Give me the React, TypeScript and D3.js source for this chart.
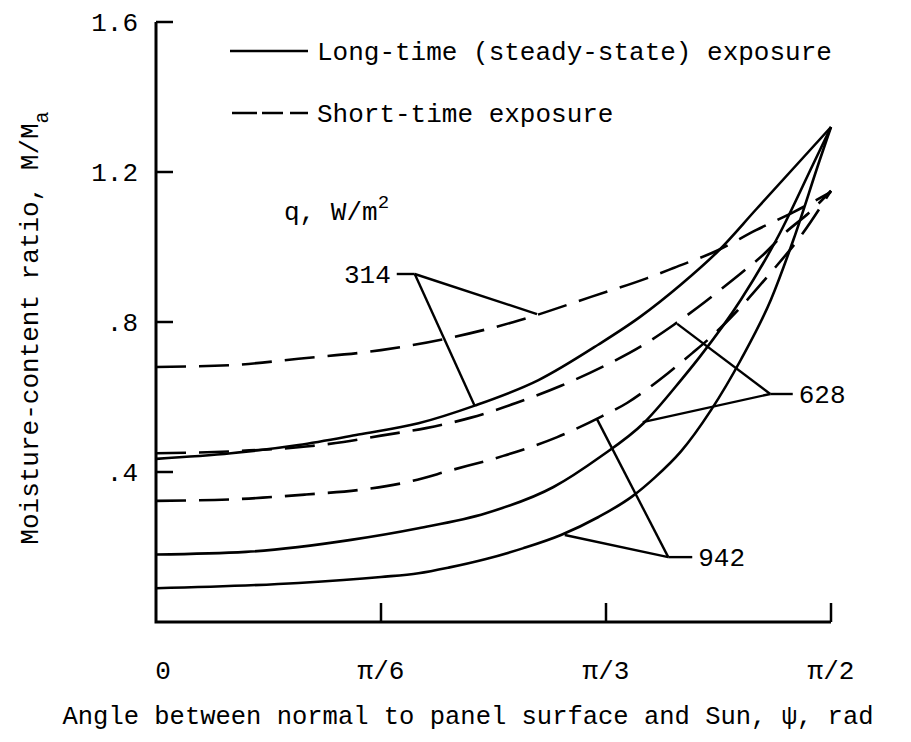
import React from "react";
import * as d3 from "d3";

// ---- data (angle in degrees, value = M/Ma) ----
const solid314: [number, number][] = [[0,0.435],[10,0.45],[19,0.472],[27,0.5],[35,0.53],[42.5,0.577],[51,0.645],[59,0.74],[64.5,0.813],[70,0.9],[75,0.99],[80,1.1],[86,1.232],[90,1.32]];
const dashed314: [number, number][] = [[0,0.68],[10,0.685],[19,0.702],[30,0.725],[39,0.757],[47.7,0.8],[58,0.867],[65.5,0.917],[69,0.944],[75,0.992],[80,1.045],[85,1.093],[90,1.147]];
const solid628: [number, number][] = [[0,0.18],[12,0.187],[26,0.219],[35,0.25],[44,0.29],[53,0.36],[59.2,0.44],[65,0.53],[70,0.645],[72.5,0.707],[78,0.86],[83,1.03],[87.6,1.22],[90,1.32]];
const dashed628: [number, number][] = [[0,0.45],[10,0.455],[20,0.468],[25,0.48],[30,0.497],[36,0.517],[42,0.545],[48,0.584],[54,0.63],[60,0.685],[65,0.739],[69,0.792],[72.3,0.84],[75.5,0.89],[78,0.93],[81,0.98],[84,1.04],[87,1.09],[90,1.15]];
const solid942: [number, number][] = [[0,0.09],[19,0.104],[30,0.12],[35,0.13],[39,0.145],[44,0.168],[49,0.197],[54,0.232],[59,0.28],[63.5,0.335],[66.5,0.385],[70,0.455],[74,0.565],[78,0.7],[82,0.86],[85,1.02],[88.5,1.232],[90,1.32]];
const dashed942: [number, number][] = [[0,0.323],[10,0.327],[20,0.34],[27,0.352],[33.5,0.373],[39.4,0.405],[46.3,0.443],[53.5,0.493],[59.5,0.549],[62.8,0.584],[65.9,0.627],[68.3,0.664],[71.5,0.717],[74,0.76],[77.5,0.83],[81.9,0.93],[86,1.03],[90,1.15]];

const yTicks = [0.4, 0.8, 1.2, 1.6];
const yTickLabels = [".4", ".8", "1.2", "1.6"];
const xTicks = [0, 30, 60, 90];
const xTickLabels = ["0", "π/6", "π/3", "π/2"];

// annotation leaders
const fluxLabels = ["314", "628", "942"];
const leaderJunction: [number, number][] = [[34.5, 0.928], [81.9, 0.608], [68.3, 0.173]];
const leaderEnd: [number, number][] = [[32.1, 0.928], [84.9, 0.608], [71.5, 0.173]];
const leaderDashed: [number, number][] = [[50.8, 0.821], [69.5, 0.795], [58.8, 0.541]];
const leaderSolid: [number, number][] = [[42.5, 0.576], [64.9, 0.533], [54.5, 0.232]];

const W = 911, H = 742;
const FONT = "'Liberation Mono', 'DejaVu Sans Mono', monospace";
const FS = 26;

export default function App() {
  const x = d3.scaleLinear().domain([0, 90]).range([156, 831]);
  const y = d3.scaleLinear().domain([0, 1.6]).range([622, 22]);
  const line = d3.line<[number, number]>().x(d => x(d[0])).y(d => y(d[1])).curve(d3.curveMonotoneX);

  const solids = [solid314, solid628, solid942];
  const dashes = [dashed314, dashed628, dashed942];

  return (
    <svg width={W} height={H} viewBox={`0 0 ${W} ${H}`} style={{ position: "absolute", left: 0, top: 0, background: "#fff" }}>
      <rect width={W} height={H} fill="#fff" />
      {/* axes */}
      <path d={`M${x(0)},${y(1.6)} L${x(0)},${y(0)} L${x(90)},${y(0)}`} fill="none" stroke="#000" strokeWidth={3} />
      {yTicks.map((t, i) => (
        <g key={"yt" + i}>
          <line x1={x(0)} x2={x(0) + 17} y1={y(t)} y2={y(t)} stroke="#000" strokeWidth={2.5} />
          <text x={x(0) - 18} y={y(t)} dy="0.35em" textAnchor="end" fontFamily={FONT} fontSize={FS}>{yTickLabels[i]}</text>
        </g>
      ))}
      {xTicks.map((t, i) => (
        <g key={"xt" + i}>
          {t > 0 && <line x1={x(t)} x2={x(t)} y1={y(0)} y2={y(0) - 19} stroke="#000" strokeWidth={2.5} />}
          <text x={x(t) + (t === 0 ? 7 : 0)} y={y(0) + 57} textAnchor="middle" fontFamily={FONT} fontSize={FS}>{xTickLabels[i]}</text>
        </g>
      ))}
      {/* curves */}
      {solids.map((s, i) => (
        <path key={"s" + i} d={line(s) || ""} fill="none" stroke="#000" strokeWidth={2.6} />
      ))}
      {dashes.map((s, i) => (
        <path key={"d" + i} d={line(s) || ""} fill="none" stroke="#000" strokeWidth={2.6} strokeDasharray="30 13" />
      ))}
      {/* leaders */}
      {fluxLabels.map((lab, i) => {
        const j = leaderJunction[i], e = leaderEnd[i], a = leaderDashed[i], b = leaderSolid[i];
        const left = e[0] < j[0];
        return (
          <g key={"l" + i} stroke="#000" strokeWidth={2.4} fill="none">
            <line x1={x(e[0])} y1={y(e[1])} x2={x(j[0])} y2={y(j[1])} />
            <line x1={x(j[0])} y1={y(j[1])} x2={x(a[0])} y2={y(a[1])} />
            <line x1={x(j[0])} y1={y(j[1])} x2={x(b[0])} y2={y(b[1])} />
            <text x={x(e[0]) + (left ? -6 : 6)} y={y(e[1])} dy="0.35em" textAnchor={left ? "end" : "start"} fontFamily={FONT} fontSize={FS} stroke="none" fill="#000">{lab}</text>
          </g>
        );
      })}
      {/* legend */}
      <line x1={230} x2={308} y1={51} y2={51} stroke="#000" strokeWidth={2.6} />
      <text x={317} y={51} dy="0.35em" fontFamily={FONT} fontSize={FS}>Long-time (steady-state) exposure</text>
      <line x1={232} x2={308} y1={113} y2={113} stroke="#000" strokeWidth={2.6} strokeDasharray="25 5 21 7 18 100" />
      <text x={317} y={113} dy="0.35em" fontFamily={FONT} fontSize={FS}>Short-time exposure</text>
      <text x={284} y={220} fontFamily={FONT} fontSize={FS}>q, W/m<tspan dy={-12} fontSize={19}>2</tspan></text>
      {/* axis titles */}
      <text transform={`translate(38,${(y(0) + y(1.6)) / 2 + 6}) rotate(-90)`} textAnchor="middle" fontFamily={FONT} fontSize={FS}>
        Moisture-content ratio, M/M<tspan dy={10} fontSize={20}>a</tspan>
      </text>
      <text x={468} y={724} textAnchor="middle" fontFamily={FONT} fontSize={25.5}>Angle between normal to panel surface and Sun, ψ, rad</text>
    </svg>
  );
}
